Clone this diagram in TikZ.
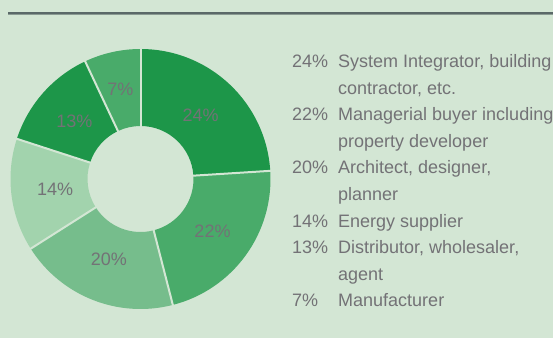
\documentclass[tikz,border=0pt]{standalone}
\usepackage{fontspec}
\setmainfont{Liberation Sans}
\usetikzlibrary{calc}
\definecolor{paper}{RGB}{211,230,212}
\definecolor{greenA}{RGB}{29,150,73}
\definecolor{greenB}{RGB}{73,171,106}
\definecolor{greenC}{RGB}{118,189,140}
\definecolor{greenD}{RGB}{162,211,173}
\definecolor{rulegray}{RGB}{90,105,104}
\definecolor{textgray}{RGB}{115,114,118}
\def\ringpart[#1](#2)(#3:#4:#5:#6){\fill[#1] ($(#2)+(#3:#6)$) arc (#3:#4:#6) -- ($(#2)+(#4:#5)$) arc (#4:#3:#5) -- cycle;}
\tikzset{
  slicelbl/.style={text=textgray, font=\fontsize{18}{20}\selectfont},
  legpct/.style={anchor=base west, inner sep=0pt, text=textgray, font=\fontsize{18}{20}\selectfont},
  legtxt/.style={anchor=base west, inner sep=0pt, text=textgray, font=\fontsize{18}{20}\selectfont}
}

\begin{document}
\begin{tikzpicture}[x=1pt,y=1pt]
		%%%%% START %%%%%
		\fill[paper] (0,0) rectangle (553,338);
		\useasboundingbox (0,0) rectangle (553,338);
		
		\fill[rulegray] (8,323.5) rectangle (553,326.3);
		\fill[rulegray!60!paper] (8,323) rectangle (553,323.8);
		
		\coordinate (pc) at (140.5,159);
		
		\ringpart[greenA](pc)(90:3.6:53pt:130pt)
		\ringpart[greenB](pc)(3.6:-75.6:53pt:130pt)
		\ringpart[greenC](pc)(-75.6:-147.6:53pt:130pt)
		\ringpart[greenD](pc)(-147.6:-198:53pt:130pt)
		\ringpart[greenA](pc)(-198:-244.8:53pt:130pt)
		\ringpart[greenB](pc)(-244.8:-270:53pt:130pt)
		
		\draw[paper, line width=2pt] ($(pc)+(90:50pt)$) -- ($(pc)+(90:133pt)$);
		\draw[paper, line width=2pt] ($(pc)+(3.6:50pt)$) -- ($(pc)+(3.6:133pt)$);
		\draw[paper, line width=2pt] ($(pc)+(-75.6:50pt)$) -- ($(pc)+(-75.6:133pt)$);
		\draw[paper, line width=2pt] ($(pc)+(-147.6:50pt)$) -- ($(pc)+(-147.6:133pt)$);
		\draw[paper, line width=2pt] ($(pc)+(-198:50pt)$) -- ($(pc)+(-198:133pt)$);
		\draw[paper, line width=2pt] ($(pc)+(-244.8:50pt)$) -- ($(pc)+(-244.8:133pt)$);
		
		\node[slicelbl] (s24) at ($(pc)+(46.8:88pt)$) {24\%};
		\node[slicelbl] (s22) at ($(pc)+(-36:89pt)$) {22\%};
		\node[slicelbl] (s20) at ($(pc)+(-111.6:86pt)$) {20\%};
		\node[slicelbl] (s14) at ($(pc)+(-172.8:86pt)$) {14\%};
		\node[slicelbl] (s13) at ($(pc)+(138.6:88pt)$) {13\%};
		\node[slicelbl] (s7) at ($(pc)+(102.6:92pt)$) {7\%};
		
		\node[legpct] (p24) at (292,270.5) {24\%};
		\node[legtxt] (t24a) at (338,270.5) {System Integrator, building};
		\node[legtxt] (t24b) at (338,243.9) {contractor, etc.};
		\node[legpct] (p22) at (292,217.3) {22\%};
		\node[legtxt] (t22a) at (338,217.3) {Managerial buyer including};
		\node[legtxt] (t22b) at (338,190.7) {property developer};
		\node[legpct] (p20) at (292,164.1) {20\%};
		\node[legtxt] (t20a) at (338,164.1) {Architect, designer,};
		\node[legtxt] (t20b) at (338,137.5) {planner};
		\node[legpct] (p14) at (292,110.9) {14\%};
		\node[legtxt] (t14a) at (338,110.9) {Energy supplier};
		\node[legpct] (p13) at (292,84.3) {13\%};
		\node[legtxt] (t13a) at (338,84.3) {Distributor, wholesaler,};
		\node[legtxt] (t13b) at (338,57.7) {agent};
		\node[legpct] (p7) at (292,31.1) {7\%};
		\node[legtxt] (t7a) at (338,31.1) {Manufacturer};
		%%%%% END %%%%%
\end{tikzpicture}
\end{document}
